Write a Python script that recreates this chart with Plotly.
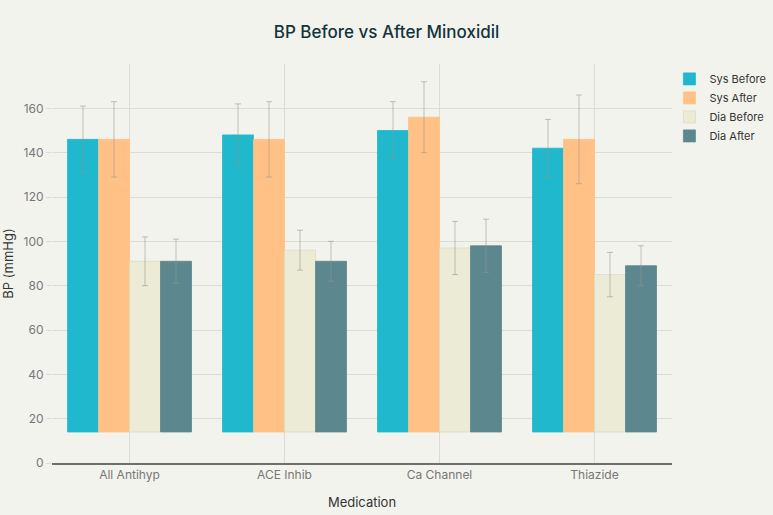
import plotly.graph_objects as go

categories = ["All Antihyp", "ACE Inhib", "Ca Channel", "Thiazide"]
series_names = ["Sys Before", "Sys After", "Dia Before", "Dia After"]
sys_before = [146, 148, 150, 142]
sys_after = [146, 146, 156, 146]
dia_before = [91, 96, 97, 85]
dia_after = [91, 91, 98, 89]
sys_before_err = [15, 14, 13, 13]
sys_after_err = [17, 17, 16, 20]
dia_before_err = [11, 9, 12, 10]
dia_after_err = [10, 9, 12, 9]
bar_base = 14

values = [sys_before, sys_after, dia_before, dia_after]
errors = [sys_before_err, sys_after_err, dia_before_err, dia_after_err]
colors = ["#1FB8CD", "#FFC185", "#ECEBD5", "#5D878F"]
line_colors = ["#1FB8CD", "#FFC185", "#DCDBC2", "#5D878F"]

fig = go.Figure()
for name, vals, errs, col, lc in zip(series_names, values, errors, colors, line_colors):
    fig.add_trace(go.Bar(
        name=name,
        x=categories,
        y=[v - bar_base for v in vals],
        base=bar_base,
        marker=dict(color=col, line=dict(color=lc, width=0.8)),
        error_y=dict(type="data", array=errs, visible=True,
                     color="rgba(150,150,140,0.55)", thickness=1, width=3),
        hovertemplate="%{x}: %{y}<extra></extra>",
    ))

fig.update_layout(
    width=773, height=515,
    paper_bgcolor="#F3F3EE", plot_bgcolor="#F3F3EE",
    font=dict(family="Inter, Noto Sans, sans-serif", color="#555", size=12),
    title=dict(text="BP Before vs After Minoxidil", x=0.5, xanchor="center",
               y=0.938, yanchor="middle",
               font=dict(size=17, color="#13343B", family="Inter, sans-serif", weight=500)),
    barmode="group", bargap=0.2, bargroupgap=0,
    margin=dict(l=52, r=101, t=64, b=52, autoexpand=False),
    legend=dict(xref="container", yref="container", x=0.866, y=0.875,
                xanchor="left", yanchor="top",
                font=dict(size=11, color="#333"), bgcolor="rgba(0,0,0,0)",
                traceorder="normal", itemwidth=30),
    xaxis=dict(title=dict(text="Medication", font=dict(size=13, color="#333"), standoff=17),
               showgrid=True, gridcolor="#DCDCD6", gridwidth=1, automargin=False,
               showline=True, linecolor="#6E6E6E", linewidth=1.5,
               tickfont=dict(size=12, color="#777"), ticks=""),
    yaxis=dict(title=dict(text="BP (mmHg)", font=dict(size=13, color="#333"), standoff=12),
               range=[0, 180], tickvals=[0, 20, 40, 60, 80, 100, 120, 140, 160],
               showgrid=True, gridcolor="#DCDCD6", gridwidth=1, zeroline=False,
               automargin=False,
               ticks="outside", ticklen=5, tickcolor="#DCDCD6",
               tickfont=dict(size=12, color="#777")),
)

fig.write_html("out.html", config={"displayModeBar": False},
               post_script="document.body.style.margin='0';")
